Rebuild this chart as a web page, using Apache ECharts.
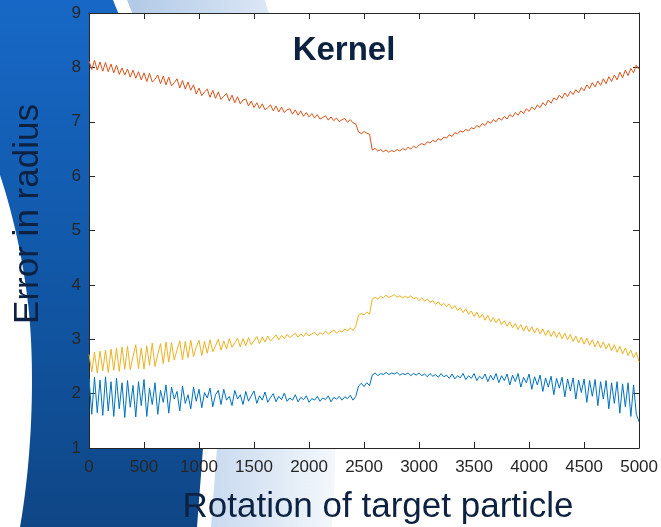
<!DOCTYPE html>
<html>
<head>
<meta charset="utf-8">
<title>Kernel</title>
<script src="https://cdn.jsdelivr.net/npm/echarts@6/dist/echarts.min.js"></script>
<style>
  html, body { margin: 0; padding: 0; background: #ffffff; }
  #chart { width: 661px; height: 527px; }
</style>
</head>
<body>
<div id="chart"></div>
<script>
// Sampling of the rotation axis (target particle rotation, 0..5000)
const rotationStep = 25;
const xRange = [0, 5000];
const yRange = [1, 9];
const xTickInterval = 500;
const yTickInterval = 1;

const chartTitle = 'Kernel';
const xAxisTitle = 'Rotation of target particle';
const yAxisTitle = 'Error in radius';
const seriesNames = ['Kernel A', 'Kernel B', 'Kernel C'];

// Error in radius, one value per rotation step
const errorBlue = [
  2.28, 1.62, 2.30, 1.65, 2.25, 1.60, 2.31, 1.68, 2.22, 1.58, 2.28, 1.72, 2.20, 1.56, 2.24, 1.75, 2.15, 1.57, 2.22, 1.78,
  2.26, 1.58, 2.10, 1.80, 2.20, 1.62, 2.06, 1.84, 2.16, 1.64, 2.12, 1.90, 2.04, 1.68, 2.14, 1.82, 1.98, 1.72, 2.12, 1.86,
  2.08, 1.74, 2.02, 1.92, 2.10, 1.76, 1.98, 2.06, 1.80, 2.08, 1.88, 1.95, 1.78, 2.06, 1.90, 1.98, 1.80, 2.04, 1.86, 1.96,
  2.05, 1.82, 1.96, 1.88, 2.03, 1.84, 1.93, 2.00, 1.85, 1.95, 1.89, 2.01, 1.86, 1.92, 1.88, 1.98, 1.85, 1.93, 1.89, 1.96,
  1.84, 1.91, 1.88, 1.95, 1.86, 1.92, 1.89, 1.96, 1.85, 1.93, 1.90, 1.95, 1.88, 1.94, 1.91, 1.97, 1.88, 1.95, 2.14, 2.19,
  2.13, 2.20, 2.15, 2.34, 2.38, 2.33, 2.37, 2.35, 2.39, 2.35, 2.38, 2.36, 2.39, 2.34, 2.37, 2.35, 2.38, 2.33, 2.37, 2.34,
  2.38, 2.33, 2.36, 2.31, 2.37, 2.32, 2.35, 2.30, 2.37, 2.31, 2.34, 2.28, 2.36, 2.27, 2.33, 2.29, 2.37, 2.26, 2.33, 2.28,
  2.37, 2.24, 2.32, 2.27, 2.36, 2.22, 2.34, 2.25, 2.37, 2.20, 2.33, 2.24, 2.36, 2.16, 2.34, 2.22, 2.37, 2.12, 2.30, 2.20,
  2.36, 2.08, 2.31, 2.16, 2.34, 2.04, 2.29, 2.12, 2.32, 1.98, 2.28, 2.10, 2.30, 1.94, 2.27, 2.05, 2.29, 1.90, 2.25, 2.02,
  2.27, 1.84, 2.24, 1.95, 2.26, 1.78, 2.22, 1.90, 2.24, 1.72, 2.20, 1.82, 2.22, 1.64, 2.18, 1.76, 2.20, 1.58, 2.16, 1.62,
  1.48
];

const errorOrange = [
  8.12, 7.96, 8.13, 7.95, 8.10, 7.93, 8.09, 7.92, 8.06, 7.90, 8.04, 7.87, 7.99, 7.86, 7.97, 7.82, 7.95, 7.80, 7.92, 7.77,
  7.90, 7.74, 7.89, 7.73, 7.78, 7.86, 7.70, 7.84, 7.68, 7.82, 7.66, 7.72, 7.79, 7.62, 7.76, 7.60, 7.73, 7.58, 7.68, 7.51,
  7.62, 7.48, 7.55, 7.60, 7.45, 7.58, 7.43, 7.55, 7.41, 7.47, 7.52, 7.38, 7.49, 7.35, 7.46, 7.33, 7.40, 7.42, 7.29, 7.38,
  7.26, 7.35, 7.24, 7.33, 7.22, 7.26, 7.31, 7.20, 7.29, 7.18, 7.27, 7.17, 7.22, 7.24, 7.14, 7.22, 7.12, 7.20, 7.10, 7.17,
  7.09, 7.15, 7.07, 7.13, 7.05, 7.08, 7.11, 7.03, 7.09, 7.02, 7.07, 7.00, 7.04, 7.06, 6.99, 7.04, 6.98, 6.96, 6.81, 6.78,
  6.82, 6.79, 6.77, 6.48, 6.51, 6.46, 6.49, 6.45, 6.48, 6.44, 6.47, 6.45, 6.49, 6.46, 6.51, 6.48, 6.53, 6.50, 6.55, 6.52,
  6.57, 6.60, 6.57, 6.63, 6.61, 6.66, 6.63, 6.69, 6.66, 6.72, 6.70, 6.76, 6.73, 6.80, 6.78, 6.83, 6.81, 6.86, 6.83, 6.89,
  6.87, 6.93, 6.90, 6.97, 6.93, 7.01, 6.97, 7.04, 7.00, 7.07, 7.03, 7.10, 7.05, 7.13, 7.09, 7.17, 7.12, 7.20, 7.15, 7.24,
  7.19, 7.27, 7.22, 7.31, 7.26, 7.35, 7.30, 7.40, 7.34, 7.44, 7.40, 7.49, 7.43, 7.53, 7.46, 7.56, 7.50, 7.59, 7.53, 7.63,
  7.57, 7.68, 7.61, 7.72, 7.64, 7.75, 7.67, 7.79, 7.70, 7.83, 7.74, 7.86, 7.77, 7.91, 7.81, 7.95, 7.85, 7.98, 7.90, 8.04,
  7.96
];

const errorYellow = [
  2.72, 2.40, 2.76, 2.38, 2.78, 2.42, 2.80, 2.39, 2.82, 2.43, 2.84, 2.41, 2.86, 2.45, 2.87, 2.44, 2.68, 2.90, 2.46, 2.84,
  2.45, 2.88, 2.52, 2.93, 2.50, 2.72, 2.92, 2.55, 2.95, 2.58, 2.94, 2.62, 2.80, 2.97, 2.62, 2.96, 2.66, 2.98, 2.68, 2.86,
  2.98, 2.70, 2.96, 2.74, 2.99, 2.77, 2.88, 3.00, 2.80, 2.97, 2.82, 3.01, 2.85, 2.93, 3.02, 2.86, 3.01, 2.88, 3.03, 2.90,
  2.97, 3.05, 2.92, 3.04, 2.95, 3.06, 2.97, 3.02, 3.08, 2.99, 3.07, 3.01, 3.09, 3.03, 3.07, 3.11, 3.04, 3.10, 3.05, 3.12,
  3.06, 3.10, 3.13, 3.07, 3.12, 3.09, 3.15, 3.10, 3.13, 3.17, 3.11, 3.16, 3.13, 3.19, 3.15, 3.21, 3.16, 3.24, 3.44, 3.47,
  3.45, 3.50, 3.46, 3.74, 3.77, 3.74, 3.79, 3.76, 3.81, 3.77, 3.79, 3.82, 3.77, 3.80, 3.76, 3.79, 3.76, 3.80, 3.74, 3.77,
  3.71, 3.76, 3.70, 3.74, 3.68, 3.71, 3.64, 3.69, 3.62, 3.66, 3.60, 3.65, 3.56, 3.62, 3.53, 3.58, 3.49, 3.56, 3.46, 3.52,
  3.42, 3.50, 3.39, 3.46, 3.35, 3.44, 3.32, 3.40, 3.30, 3.38, 3.27, 3.34, 3.24, 3.32, 3.21, 3.29, 3.18, 3.27, 3.15, 3.25,
  3.14, 3.23, 3.12, 3.21, 3.10, 3.19, 3.07, 3.17, 3.05, 3.15, 3.03, 3.13, 3.01, 3.11, 2.99, 3.09, 2.96, 3.06, 2.93, 3.04,
  2.91, 3.02, 2.89, 2.99, 2.86, 2.97, 2.84, 2.95, 2.82, 2.92, 2.79, 2.90, 2.76, 2.87, 2.73, 2.84, 2.70, 2.80, 2.66, 2.76,
  2.58
];

const seriesColors = ['#0072BD', '#D95319', '#EDB120'];
const inkColor = '#262626';
const titleColor = '#0d2240';
const fontFamily = '"Liberation Sans", Arial, Helvetica, sans-serif';

function toPoints(values) {
  return values.map((v, i) => [i * rotationStep, v]);
}

// Flatten a chain of cubic Bezier segments into polygon vertices (page background art)
function bezierChain(start, segments, steps) {
  const pts = [start.slice()];
  let p0 = start;
  segments.forEach(seg => {
    const [c1, c2, p3] = seg;
    for (let s = 1; s <= steps; s++) {
      const t = s / steps, u = 1 - t;
      pts.push([
        u * u * u * p0[0] + 3 * u * u * t * c1[0] + 3 * u * t * t * c2[0] + t * t * t * p3[0],
        u * u * u * p0[1] + 3 * u * u * t * c1[1] + 3 * u * t * t * c2[1] + t * t * t * p3[1]
      ]);
    }
    p0 = p3;
  });
  return pts;
}

const swooshRightEdge = bezierChain([113, 0], [[[163, 120], [209, 348], [203, 448]]], 40)
  .concat([[197, 527]]);
const swooshLeftEdge = bezierChain([20, 527], [
  [[30, 470], [34, 400], [31, 340]],
  [[28, 280], [15, 220], [0, 175]]
], 30);
const swooshPoints = [[0, 0]].concat(swooshRightEdge, swooshLeftEdge);

const ribbonInner = bezierChain([127, 0], [[[177, 120], [223, 348], [217, 448]]], 40)
  .concat([[211, 527]]);
const ribbonOuter = bezierChain([332, 527], [[[336, 470], [345, 330], [300, 120]]], 30)
  .concat([[265, 0]]);
const ribbonPoints = ribbonInner.concat(ribbonOuter);

const chart = echarts.init(document.getElementById('chart'), null, { renderer: 'canvas' });

const axisLineStyle = { color: inkColor, width: 1 };
const plainNumber = v => String(v);

function xAxisDef(position, showLabels) {
  return {
    type: 'value', gridIndex: 0, position: position,
    min: xRange[0], max: xRange[1], interval: xTickInterval,
    axisLine: { show: true, onZero: false, lineStyle: axisLineStyle },
    axisTick: { show: true, inside: true, length: 6, lineStyle: axisLineStyle },
    axisLabel: {
      show: showLabels, color: inkColor, fontSize: 17, margin: 11,
      fontFamily: fontFamily, formatter: plainNumber
    },
    splitLine: { show: false }
  };
}

function yAxisDef(position, showLabels) {
  return {
    type: 'value', gridIndex: 0, position: position,
    min: yRange[0], max: yRange[1], interval: yTickInterval,
    axisLine: { show: true, onZero: false, lineStyle: axisLineStyle },
    axisTick: { show: true, inside: true, length: 6, lineStyle: axisLineStyle },
    axisLabel: {
      show: showLabels, color: inkColor, fontSize: 17, margin: 8,
      fontFamily: fontFamily, formatter: plainNumber
    },
    splitLine: { show: false }
  };
}

const seriesData = [errorBlue, errorOrange, errorYellow];

const option = {
  animation: false,
  backgroundColor: '#ffffff',
  grid: {
    left: 89, right: 19, top: 13, bottom: 79,
    show: true, backgroundColor: '#ffffff', borderWidth: 0
  },
  xAxis: [xAxisDef('bottom', true), xAxisDef('top', false)],
  yAxis: [yAxisDef('left', true), yAxisDef('right', false)],
  series: seriesData.map((vals, k) => ({
    name: seriesNames[k],
    type: 'line',
    xAxisIndex: 0, yAxisIndex: 0,
    data: toPoints(vals),
    showSymbol: false,
    symbol: 'none',
    smooth: false,
    lineStyle: { color: seriesColors[k], width: 1 },
    itemStyle: { color: seriesColors[k] },
    z: 3
  })),
  graphic: [
    // pale gradient ribbon beside the swoosh
    {
      type: 'polygon', z: -20, silent: true,
      shape: { points: ribbonPoints },
      style: {
        fill: {
          type: 'linear', x: 0, y: 0, x2: 1, y2: 0,
          colorStops: [
            { offset: 0, color: '#b1c9e7' },
            { offset: 0.55, color: '#d3e1f2' },
            { offset: 1, color: '#f4f8fc' }
          ]
        }
      }
    },
    // dark blue swoosh on the left
    {
      type: 'polygon', z: -10, silent: true,
      shape: { points: swooshPoints },
      style: {
        fill: {
          type: 'linear', x: 0, y: 0, x2: 0, y2: 1,
          colorStops: [
            { offset: 0, color: '#1768c6' },
            { offset: 0.5, color: '#1158a8' },
            { offset: 1, color: '#0f4686' }
          ]
        }
      }
    },
    {
      type: 'text', z: 10, silent: true,
      x: 344, y: 51,
      style: {
        text: chartTitle, fill: titleColor,
        font: 'bold 33px ' + fontFamily,
        textAlign: 'center', textVerticalAlign: 'middle'
      }
    },
    {
      type: 'text', z: 10, silent: true,
      x: 378, y: 507,
      style: {
        text: xAxisTitle, fill: titleColor,
        font: '35px ' + fontFamily,
        textAlign: 'center', textVerticalAlign: 'middle'
      }
    },
    {
      type: 'text', z: 10, silent: true,
      x: 28, y: 214, rotation: Math.PI / 2,
      style: {
        text: yAxisTitle, fill: titleColor,
        font: '35px ' + fontFamily,
        textAlign: 'center', textVerticalAlign: 'middle'
      }
    }
  ]
};

chart.setOption(option);
</script>
</body>
</html>
